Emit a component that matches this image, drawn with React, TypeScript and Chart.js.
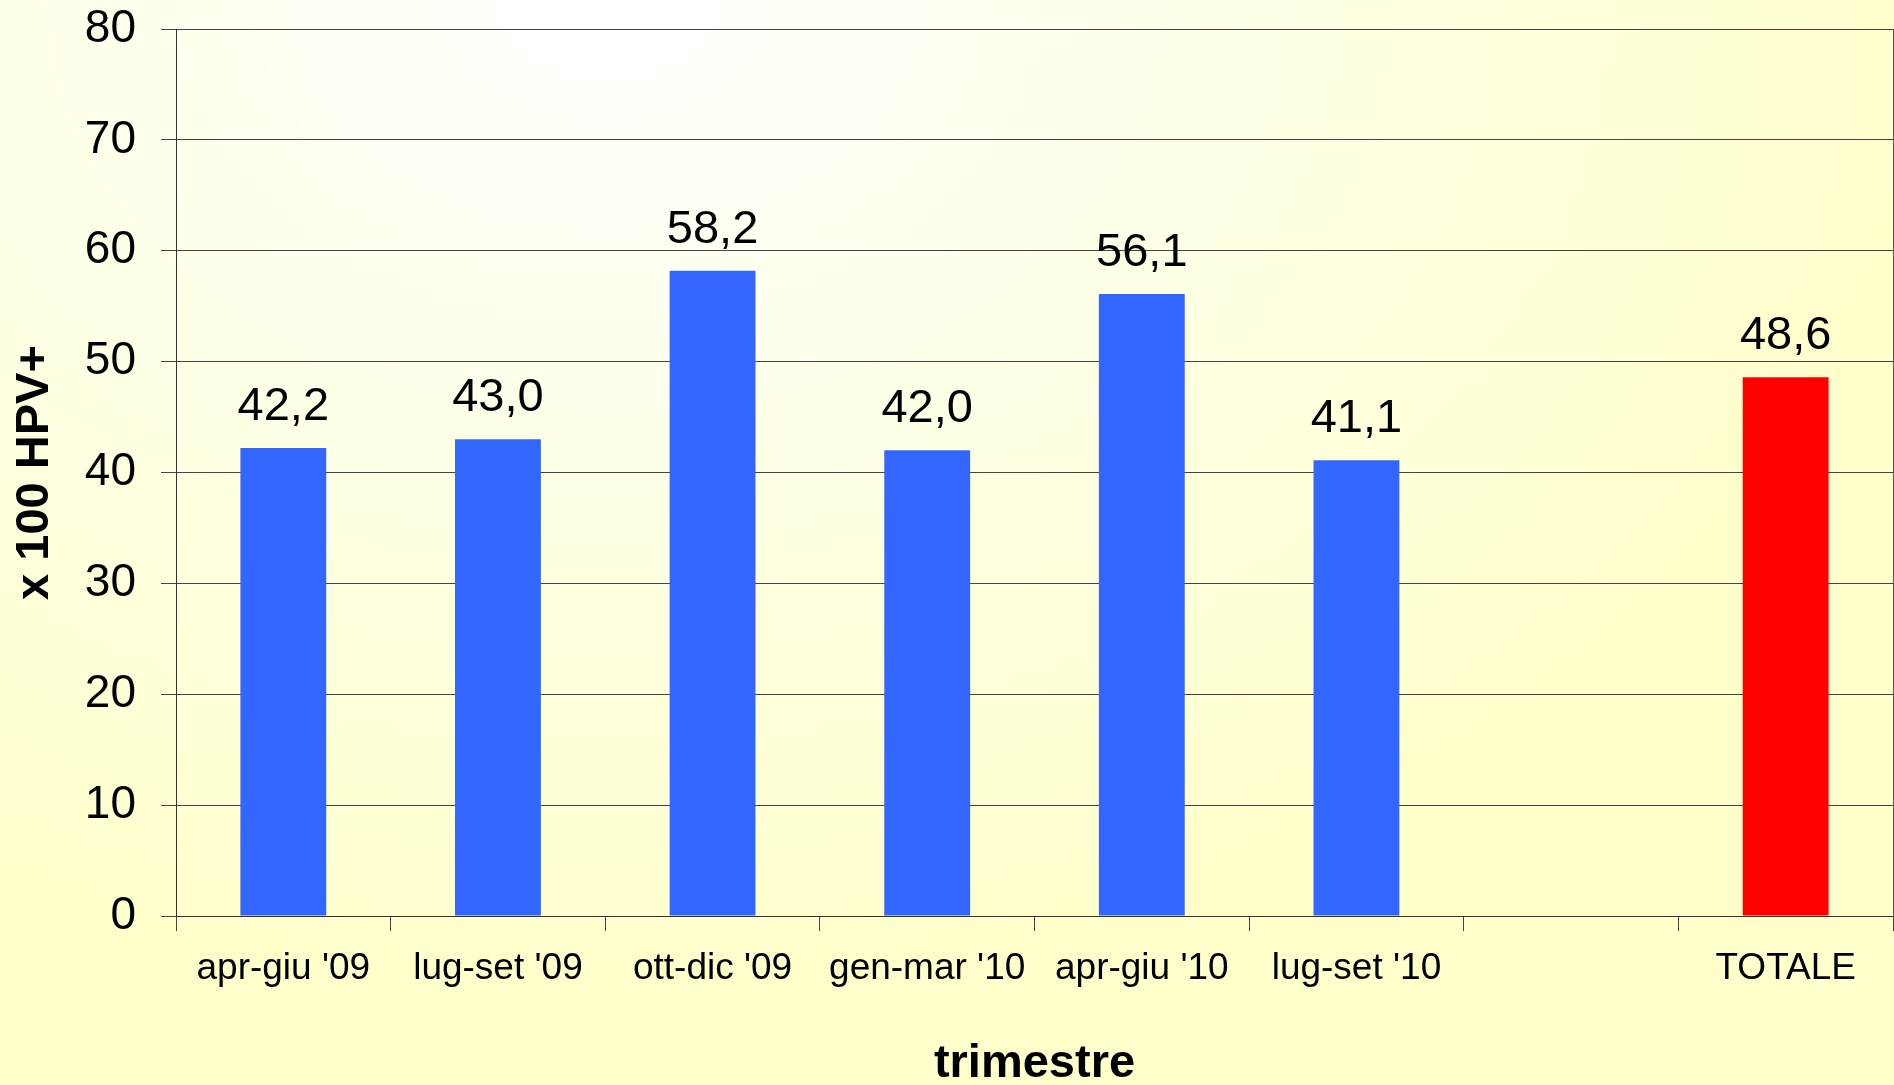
import React, { useEffect, useRef } from 'react';
import { Chart, registerables } from 'chart.js';

Chart.register(...registerables);

const categories = ["apr-giu '09", "lug-set '09", "ott-dic '09", "gen-mar '10", "apr-giu '10", "lug-set '10", "", "TOTALE"];
const values: (number | null)[] = [42.2, 43.0, 58.2, 42.0, 56.1, 41.1, null, 48.6];
const barColors = ['#3366FF', '#3366FF', '#3366FF', '#3366FF', '#3366FF', '#3366FF', '#3366FF', '#FF0000'];
const yMin = 0;
const yMax = 80;
const yStep = 10;
const yTitle = 'x 100 HPV+';
const xTitle = 'trimestre';

const FONT = '"Liberation Sans", Arial, Helvetica, sans-serif';

const valueLabels = {
  id: 'valueLabels',
  afterDatasetsDraw(chart: any) {
    const ctx = chart.ctx;
    const meta = chart.getDatasetMeta(0);
    ctx.save();
    ctx.font = `47px ${FONT}`;
    ctx.fillStyle = '#000000';
    ctx.textAlign = 'center';
    ctx.textBaseline = 'alphabetic';
    meta.data.forEach((bar: any, i: number) => {
      const v = values[i];
      if (v == null) return;
      ctx.fillText(v.toFixed(1).replace('.', ','), bar.x, bar.y - 28);
    });
    ctx.restore();
  },
};

export default function App() {
  const ref = useRef<HTMLCanvasElement | null>(null);

  useEffect(() => {
    if (!ref.current) return;
    Chart.defaults.font.family = FONT;
    const chart = new Chart(ref.current, {
      type: 'bar',
      data: {
        labels: categories,
        datasets: [
          {
            data: values,
            backgroundColor: barColors,
            borderWidth: 0,
            categoryPercentage: 1,
            barPercentage: 0.4,
          },
        ],
      },
      options: {
        responsive: false,
        animation: false,
        layout: { padding: { top: 29, right: 0, bottom: 0, left: 0 } },
        plugins: {
          legend: { display: false },
          tooltip: { enabled: false },
        },
        scales: {
          x: {
            grid: {
              display: true,
              drawOnChartArea: false,
              drawTicks: true,
              tickLength: 15,
              color: '#444444',
              lineWidth: 1,
              offset: true,
            },
            border: { display: true, color: '#333333', width: 1 },
            ticks: {
              color: '#000000',
              font: { size: 37, family: FONT },
              padding: 16,
              maxRotation: 0,
              autoSkip: false,
            },
            title: {
              display: true,
              text: xTitle,
              color: '#000000',
              font: { size: 47, weight: 'bold', family: FONT, lineHeight: 0.9 },
              padding: { top: 0, bottom: 0 },
            },
            afterFit(scale: any) {
              scale.height = 169;
              scale.paddingLeft = 0;
              scale.paddingRight = 0;
            },
          },
          y: {
            min: yMin,
            max: yMax,
            grid: {
              display: true,
              drawOnChartArea: true,
              drawTicks: true,
              tickLength: 15,
              color: '#444444',
              lineWidth: 1,
            },
            border: { display: true, color: '#333333', width: 1 },
            ticks: {
              stepSize: yStep,
              color: '#000000',
              font: { size: 46, family: FONT },
              padding: 25,
            },
            title: {
              display: true,
              text: yTitle,
              color: '#000000',
              font: { size: 47, weight: 'bold', family: FONT, lineHeight: 0.9 },
              padding: { top: 14, bottom: 0 },
            },
            afterFit(scale: any) {
              scale.width = 176;
              scale.paddingTop = 0;
              scale.paddingBottom = 0;
            },
          },
          yRight: {
            type: 'linear',
            position: 'right',
            display: true,
            grid: { display: true, drawOnChartArea: false, drawTicks: false },
            border: { display: true, color: '#555555', width: 1 },
            ticks: { display: false },
            afterFit(scale: any) {
              scale.width = 1;
              scale.paddingTop = 0;
              scale.paddingBottom = 0;
            },
          },
        },
      },
      plugins: [valueLabels],
    } as any);
    return () => chart.destroy();
  }, []);

  return (
    <div
      style={{
        position: 'fixed',
        left: 0,
        top: 0,
        width: 1894,
        height: 1085,
        background: 'radial-gradient(ellipse 70% 90% at 32% 0%, #ffffff 0%, #ffffcc 100%)',
      }}
    >
      <canvas ref={ref} width={1894} height={1085} style={{ display: 'block', width: 1894, height: 1085 }} />
    </div>
  );
}
